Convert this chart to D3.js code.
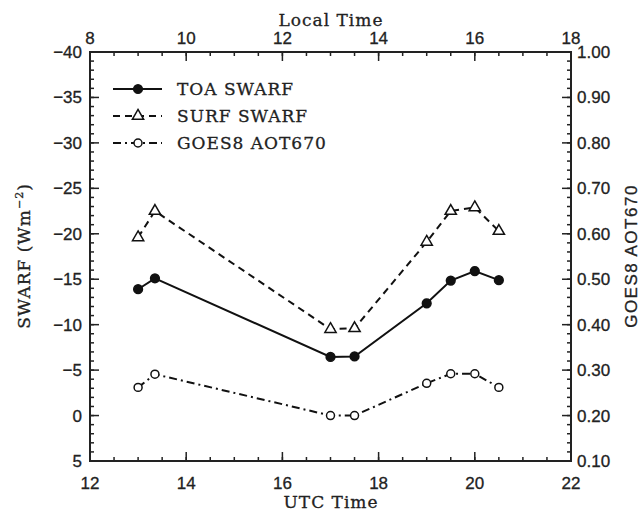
<!DOCTYPE html>
<html>
<head>
<meta charset="UTF-8">
<script src="https://cdn.jsdelivr.net/npm/d3@7"></script>
<style>
  body { margin: 0; background: #fff; }
  svg { display: block; }
  .num { font-family: 'Liberation Sans', Arial, sans-serif; font-size: 17px; fill: #222; stroke: #222; stroke-width: 0.3; }
  .lbl { font-family: 'DejaVu Serif', serif; font-size: 17px; fill: #222; stroke: #222; stroke-width: 0.3; letter-spacing: 1px; }
</style>
</head>
<body>
<svg id="chart" width="641" height="513"></svg>
<script>
// data
const utcTimes  = [13.0, 13.35, 17.0, 17.5, 19.0, 19.5, 20.0, 20.5];
const toaSwarf  = [-13.9, -15.1, -6.45, -6.5, -12.35, -14.85, -15.9, -14.9];
const surfSwarf = [-19.6, -22.5, -9.5, -9.6, -19.1, -22.5, -22.9, -20.3];
const goesAot   = [0.262, 0.291, 0.200, 0.200, 0.271, 0.292, 0.292, 0.262];

const utcTicks   = [12, 14, 16, 18, 20, 22];
const localTicks = [8, 10, 12, 14, 16, 18];
const swarfTicks = [-40, -35, -30, -25, -20, -15, -10, -5, 0, 5];
const aotTicks   = [1.0, 0.9, 0.8, 0.7, 0.6, 0.5, 0.4, 0.3, 0.2, 0.1];

const legendNames = ["TOA SWARF", "SURF SWARF", "GOES8 AOT670"];

const L = 90, R = 571, T = 52, B = 461;
const svg = d3.select("#chart");

const x = d3.scaleLinear().domain([12, 22]).range([L, R]);
const xTop = d3.scaleLinear().domain([8, 18]).range([L, R]);
const y = d3.scaleLinear().domain([-40, 5]).range([T, B]);
const yR = d3.scaleLinear().domain([1.0, 0.1]).range([T, B]);

const minus = s => s.replace("-", "\u2212");

// axes: major + minor ticks, drawn by hand so they look like the IDL plot
function ticks(scale, majors, minorStep, orient) {
  const [d0, d1] = scale.domain();
  const lo = Math.min(d0, d1), hi = Math.max(d0, d1);
  const minors = d3.range(lo, hi + 1e-9, minorStep);
  const g = svg.append("g").attr("stroke", "#222").attr("stroke-width", 1.5);
  const add = (v, len) => {
    const p = scale(v);
    if (orient === "bottom") g.append("line").attr("x1", p).attr("x2", p).attr("y1", B).attr("y2", B - len);
    if (orient === "top") g.append("line").attr("x1", p).attr("x2", p).attr("y1", T).attr("y2", T + len);
    if (orient === "left") g.append("line").attr("y1", p).attr("y2", p).attr("x1", L).attr("x2", L + len);
    if (orient === "right") g.append("line").attr("y1", p).attr("y2", p).attr("x1", R).attr("x2", R - len);
  };
  minors.forEach(v => add(v, 4));
  majors.forEach(v => add(v, 9));
}
ticks(x, utcTicks, 0.5, "bottom");
ticks(xTop, localTicks, 0.5, "top");
ticks(y, swarfTicks, 1, "left");
ticks(yR, aotTicks, 0.02, "right");

svg.append("rect").attr("x", L).attr("y", T).attr("width", R - L).attr("height", B - T)
  .attr("fill", "none").attr("stroke", "#222").attr("stroke-width", 2);

svg.selectAll(".bt").data(utcTicks).enter().append("text").attr("class", "num")
  .attr("x", d => x(d)).attr("y", 489).attr("text-anchor", "middle").text(d => d);
svg.selectAll(".tt").data(localTicks).enter().append("text").attr("class", "num")
  .attr("x", d => xTop(d)).attr("y", 44).attr("text-anchor", "middle").text(d => d);
svg.selectAll(".lt").data(swarfTicks).enter().append("text").attr("class", "num")
  .attr("x", 82).attr("y", d => y(d) + 6).attr("text-anchor", "end").text(d => minus(String(d)));
svg.selectAll(".rt").data(aotTicks).enter().append("text").attr("class", "num")
  .attr("x", 577).attr("y", d => yR(d) + 6).text(d => d.toFixed(2));

svg.append("text").attr("class", "lbl").attr("x", 331).attr("y", 508).attr("text-anchor", "middle").text("UTC Time");
svg.append("text").attr("class", "lbl").attr("x", 331).attr("y", 26).attr("text-anchor", "middle").text("Local Time");
const yl = svg.append("text").attr("class", "lbl").attr("text-anchor", "middle")
  .attr("transform", "translate(30,256) rotate(-90)");
yl.append("tspan").text("SWARF (Wm");
yl.append("tspan").attr("dy", -7).attr("font-size", 11).text("\u22122");
yl.append("tspan").attr("dy", 7).text(")");
svg.append("text").attr("class", "num").attr("text-anchor", "middle").attr("letter-spacing", 1.5)
  .attr("transform", "translate(637,256) rotate(-90)").text("GOES8 AOT670");

// series
const toa = utcTimes.map((t, i) => [x(t), y(toaSwarf[i])]);
const surf = utcTimes.map((t, i) => [x(t), y(surfSwarf[i])]);
const goes = utcTimes.map((t, i) => [x(t), yR(goesAot[i])]);

const line = d3.line();
const styles = [
  { pts: toa, dash: null, sym: d3.symbolCircle, size: 60, fill: "#111" },
  { pts: surf, dash: "7,5", sym: d3.symbolTriangle, size: 55, fill: "#fff" },
  { pts: goes, dash: "8,4,2,4", sym: d3.symbolCircle, size: 50, fill: "#fff" }
];

styles.forEach(s => {
  svg.append("path").attr("d", line(s.pts)).attr("fill", "none")
    .attr("stroke", "#111").attr("stroke-width", 2).attr("stroke-dasharray", s.dash);
  svg.selectAll(null).data(s.pts).enter().append("path")
    .attr("d", d3.symbol().type(s.sym).size(s.size))
    .attr("transform", d => `translate(${d[0]},${d[1]})`)
    .attr("fill", s.fill).attr("stroke", "#111").attr("stroke-width", 1.5);
});

// legend
const legY = [89, 116, 143];
styles.forEach((s, i) => {
  svg.append("line").attr("x1", 113).attr("x2", 162).attr("y1", legY[i]).attr("y2", legY[i])
    .attr("stroke", "#111").attr("stroke-width", 2).attr("stroke-dasharray", s.dash);
  svg.append("path").attr("d", d3.symbol().type(s.sym).size(s.size))
    .attr("transform", `translate(138,${legY[i]})`)
    .attr("fill", s.fill).attr("stroke", "#111").attr("stroke-width", 1.5);
  svg.append("text").attr("class", "lbl").attr("x", 177).attr("y", legY[i] + 6)
    .attr("font-size", 18).attr("letter-spacing", 1.5).text(legendNames[i]);
});
</script>
</body>
</html>
